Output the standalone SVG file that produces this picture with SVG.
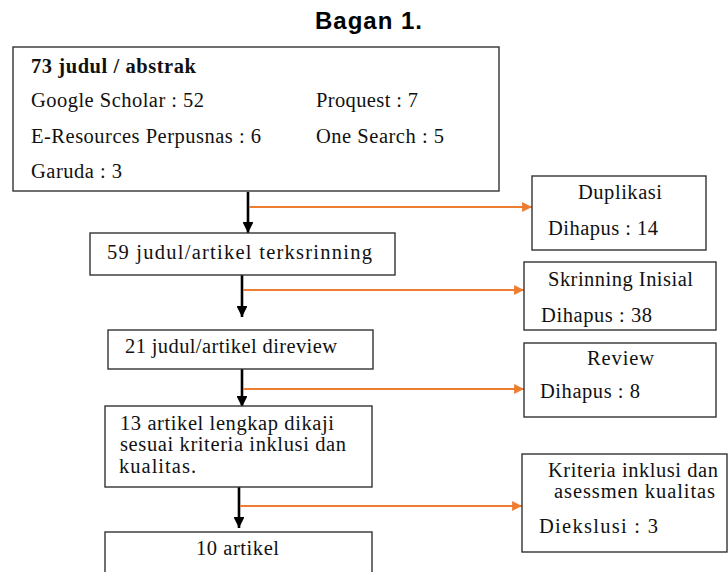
<svg xmlns="http://www.w3.org/2000/svg" width="728" height="572" viewBox="0 0 728 572">
<defs>
<style>
.box{fill:#fff;stroke:#333;stroke-width:1.4}
.t{font-family:"Liberation Serif","Times New Roman",serif;font-size:20.5px;fill:#111}
.b{font-weight:bold}
.main{stroke:#000;stroke-width:2.6;fill:none}
.side{stroke:#ED7D31;stroke-width:2.2;fill:none}
</style>
<marker id="ab" viewBox="0 0 10 10" refX="10" refY="5" markerWidth="4.2" markerHeight="4.2" markerUnits="strokeWidth" orient="auto"><path d="M0,0L10,5L0,10z" fill="#000"/></marker>
<marker id="ao" viewBox="0 0 10 10" refX="10" refY="5" markerWidth="5" markerHeight="4.5" markerUnits="strokeWidth" orient="auto"><path d="M0,0L10,5L0,10z" fill="#ED7D31"/></marker>
</defs>
<text x="315" y="29" font-family="Liberation Sans, Arial, sans-serif" font-size="24" font-weight="bold" fill="#000" textLength="107" lengthAdjust="spacing">Bagan 1.</text>

<g id="connectors">
<line class="main" x1="248" y1="192" x2="248" y2="233" marker-end="url(#ab)"/>
<line class="side" x1="249" y1="207" x2="532" y2="207" marker-end="url(#ao)"/>
<line class="main" x1="242" y1="275" x2="242" y2="317" marker-end="url(#ab)"/>
<line class="side" x1="243" y1="290" x2="524" y2="290" marker-end="url(#ao)"/>
<line class="main" x1="242" y1="369" x2="242" y2="407" marker-end="url(#ab)"/>
<line class="side" x1="243" y1="389" x2="524" y2="389" marker-end="url(#ao)"/>
<line class="main" x1="239" y1="487" x2="239" y2="528" marker-end="url(#ab)"/>
<line class="side" x1="240" y1="506" x2="522" y2="506" marker-end="url(#ao)"/>
</g>

<g id="n1">
<rect class="box" x="13" y="47" width="486" height="144"/>
<text class="t b" x="31" y="73" font-size="18.5" textLength="165" lengthAdjust="spacing">73 judul  / abstrak</text>
<text class="t" x="31" y="107" textLength="173" lengthAdjust="spacing">Google Scholar : 52</text>
<text class="t" x="316" y="107" textLength="102" lengthAdjust="spacing">Proquest : 7</text>
<text class="t" x="31" y="143" textLength="230" lengthAdjust="spacing">E-Resources Perpusnas : 6</text>
<text class="t" x="316" y="143" textLength="128" lengthAdjust="spacing">One Search : 5</text>
<text class="t" x="31" y="178" textLength="91" lengthAdjust="spacing">Garuda : 3</text>
</g>

<g id="n2">
<rect class="box" x="90" y="233" width="305" height="42"/>
<text class="t" x="107" y="259" textLength="265" lengthAdjust="spacing">59 judul/artikel  terksrinning</text>
</g>

<g id="n3">
<rect class="box" x="108" y="330" width="265" height="39"/>
<text class="t" x="125" y="353" textLength="212" lengthAdjust="spacing">21 judul/artikel direview</text>
</g>

<g id="n4">
<rect class="box" x="105" y="406" width="267" height="81"/>
<text class="t" x="120" y="430" textLength="214" lengthAdjust="spacing">13 artikel lengkap dikaji</text>
<text class="t" x="120" y="451" textLength="226" lengthAdjust="spacing">sesuai kriteria  inklusi  dan</text>
<text class="t" x="119" y="473" textLength="77" lengthAdjust="spacing">kualitas.</text>
</g>

<g id="n5">
<rect class="box" x="105" y="532" width="267" height="60"/>
<text class="t" x="196" y="555" textLength="83" lengthAdjust="spacing">10 artikel</text>
</g>

<g id="s1">
<rect class="box" x="532" y="176" width="174" height="74"/>
<text class="t" x="578" y="199" textLength="84" lengthAdjust="spacing">Duplikasi</text>
<text class="t" x="548" y="235" textLength="110" lengthAdjust="spacing">Dihapus : 14</text>
</g>

<g id="s2">
<rect class="box" x="524" y="262" width="192" height="68"/>
<text class="t" x="548" y="286" textLength="145" lengthAdjust="spacing">Skrinning Inisial</text>
<text class="t" x="541" y="322" textLength="111" lengthAdjust="spacing">Dihapus : 38</text>
</g>

<g id="s3">
<rect class="box" x="524" y="343" width="192" height="74"/>
<text class="t" x="587" y="365" textLength="67" lengthAdjust="spacing">Review</text>
<text class="t" x="540" y="398" textLength="100" lengthAdjust="spacing">Dihapus : 8</text>
</g>

<g id="s4">
<rect class="box" x="522" y="454" width="205" height="98"/>
<text class="t" x="548" y="477" textLength="170" lengthAdjust="spacing">Kriteria  inklusi  dan</text>
<text class="t" x="554" y="498" textLength="161" lengthAdjust="spacing">asessmen kualitas</text>
<text class="t" x="539" y="533" textLength="119" lengthAdjust="spacing">Diekslusi  : 3</text>
</g>
</svg>
